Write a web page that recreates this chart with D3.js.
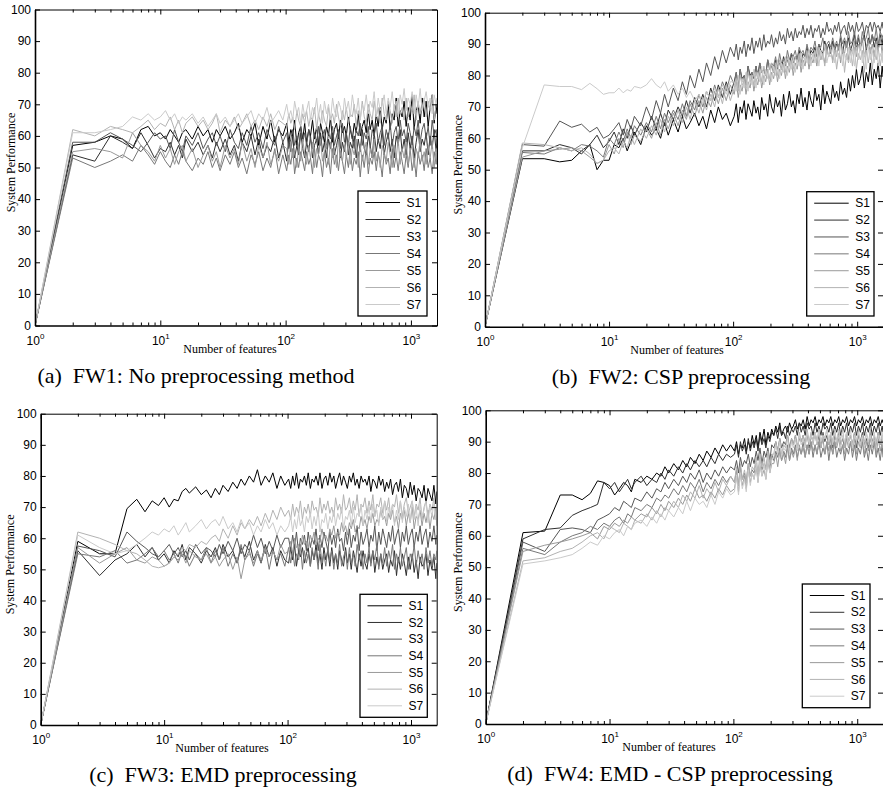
<!DOCTYPE html>
<html>
<head>
<meta charset="utf-8">
<script src="https://cdn.jsdelivr.net/npm/d3@7"></script>
<style>
body { margin: 0; background: #fff; }
svg { display: block; }
.tick text { font-family: "Liberation Sans", Arial, sans-serif; font-size: 12px; fill: #000; }
.serif { font-family: "Liberation Serif", "Times New Roman", serif; fill: #000; }
</style>
</head>
<body>
<div id="vis"></div>
<script>
const FRAME_WIDTH = 883;
const FRAME_HEIGHT = 791;

// number of features where each value was read
const FEATURES = [1,2,3,4,5,6,7,8,9,10, 11,12,13,14,15,16,18,20,22,24,
  26,28,30,33,36,39,42,45,49,53, 57,61,66,71,76,82,88,95,
  102,106,110,114,118,123,127,132,137,142, 147,153,158,164,170,177,183,190,197,204,
  212,220,228,237,245,255,264,274,284,295, 305,317,328,341,353,366,380,394,409,424,
  440,457,473,491,509,529,548,569,590,612, 635,659,683,709,735,763,791,821,851,883,
  916,951,986,1023,1061,1101,1142,1185,1229,1276, 1323,1373,1424,1478,1533,1590,1615];

const X_MAX = 1615;
const SUBJECTS = ["S1", "S2", "S3", "S4", "S5", "S6", "S7"];
const Y_TICKS = [0, 10, 20, 30, 40, 50, 60, 70, 80, 90, 100];
const X_TICKS = [1, 10, 100, 1000];
const CAPTIONS = ["(a)  FW1: No preprocessing method", "(b)  FW2: CSP preprocessing",
                  "(c)  FW3: EMD preprocessing", "(d)  FW4: EMD - CSP preprocessing"];

// FW1: no preprocessing
const FW1 = [
 [0,57,58,60,59,56,62,63,60,61, 59,62,60,58,61,62,59,63,60,62, 58,62,60,63,59,61,64,58,62,60, 64,57,63,59,65,58,62,60,
  64,58,62,60,65,57,61,63,59,64, 58,62,60,65,59,63,57,64,61,58, 63,60,66,58,62,64,59,65,61,63,
  60,66,62,59,64,61,67,60,63,65, 61,68,62,65,60,67,63,69,62,66, 64,70,62,67,65,72,63,68,66,71,
  63,69,65,73,62,68,70,64,72,66, 71,63,69,73,64,70,67],
 [0,54,52,60,58,56,61,57,53,56, 55,58,54,57,53,59,55,58,54,57, 53,58,55,59,54,57,52,58,55,60, 54,59,53,57,55,60,53,58,
  52,59,55,60,53,57,54,61,56,53, 58,55,60,53,57,59,54,61,55,58, 53,59,56,61,54,57,60,53,58,55,
  61,54,58,56,60,53,59,55,62,56, 54,60,57,53,61,55,59,56,62,54, 58,61,55,59,53,60,57,62,55,59,
  54,61,56,60,53,58,62,55,59,57, 61,54,60,56,62,55,59],
 [0,58,58,61,59,57,55,58,61,59, 60,56,62,58,55,60,57,61,56,59, 61,57,60,55,62,58,56,61,57,63, 58,61,56,62,59,57,63,58,
  61,56,59,62,57,60,55,63,58,61, 57,62,59,56,61,58,63,57,60,62, 56,61,59,63,57,60,62,56,64,58,
  61,57,63,59,56,62,60,64,57,61, 59,63,56,62,60,64,58,61,63,57, 62,59,64,57,61,63,58,65,60,62,
  58,64,61,57,63,60,65,58,62,64, 59,63,57,65,60,62,58],
 [0,53,50,52,54,52,57,54,51,55, 52,50,54,51,55,52,49,53,51,55, 50,53,49,54,51,55,50,53,48,54, 51,55,49,53,50,56,48,54,
  49,54,51,56,48,53,50,55,52,49, 55,51,53,48,56,50,54,52,47,55, 50,53,48,56,51,54,49,55,52,48,
  54,50,56,49,53,51,55,47,54,50, 56,48,53,51,55,49,54,52,47,55, 51,53,48,56,50,54,49,55,52,48,
  54,50,56,49,53,47,55,51,54,49, 56,50,53,48,55,51,54],
 [0,55,56,55,53,61,57,55,52,57, 53,56,51,55,57,52,56,50,54,57, 52,55,50,57,53,56,51,58,52,56, 50,57,53,58,51,55,52,57,
  56,51,58,53,55,50,57,52,59,54, 51,57,53,58,50,56,54,59,52,55, 57,51,58,53,56,50,59,54,52,57,
  53,58,51,56,54,59,50,57,52,55, 58,51,56,53,59,52,55,50,57,54, 52,58,54,50,57,53,59,51,56,53,
  58,51,55,57,50,56,53,59,52,55, 51,57,53,58,50,56,52],
 [0,62,60,63,62,61,63,65,62,64, 63,66,62,65,61,64,66,63,65,62, 64,67,61,65,63,66,62,64,67,63, 65,62,66,63,67,62,65,64,
  63,67,64,66,62,68,65,63,67,64, 68,63,66,65,69,62,67,64,68,65, 63,69,65,67,64,70,66,63,68,65,
  69,64,67,66,70,63,68,65,71,66, 64,70,67,65,71,66,69,64,72,67, 65,71,68,64,70,66,72,67,69,65,
  72,66,70,68,73,65,71,67,69,72, 66,71,68,73,65,70,72],
 [0,61,61,62,63,66,65,67,65,66, 68,65,67,64,66,65,67,64,66,63, 65,67,64,66,63,65,67,64,66,68, 64,67,65,69,64,66,68,65,
  70,66,68,65,71,67,69,64,70,66, 68,71,65,69,67,72,66,70,64,71, 67,70,65,72,68,66,71,69,65,72,
  68,71,66,73,69,67,72,65,70,68, 73,67,71,69,74,66,72,68,70,73, 67,72,69,74,68,71,66,73,70,75,
  68,72,70,74,67,73,69,75,68,71, 74,69,72,67,73,70,71]
];

// FW2: CSP preprocessing
const FW2 = [
 [0,53.5,53.5,52.5,53,56,58,50,53,53, 58,57,60,56,59,62,58,64,61,63, 60,65,61,66,62,67,63,65,68,64, 67,63,69,65,70,66,68,64,
  67,71,65,70,68,72,66,71,69,67, 72,68,70,66,73,69,71,67,74,70, 68,73,70,72,67,74,69,71,75,70,
  72,68,74,71,76,70,73,69,75,72, 70,76,72,74,69,77,71,75,73,71, 77,73,75,72,78,74,76,73,79,75,
  80,76,82,77,79,83,76,81,78,84, 77,82,79,84,76,83,80],
 [0,56,56,58,57,55,58,61,57,59, 62,58,63,60,64,61,65,62,67,63, 68,64,69,66,70,67,72,68,73,70, 74,70,76,72,77,73,78,74,
  78,81,77,82,79,80,78,83,80,81, 79,83,80,84,81,82,80,85,82,83, 81,85,83,84,82,86,84,85,83,87,
  84,86,85,88,84,87,86,89,85,88, 87,89,86,90,88,87,91,88,90,87, 91,88,90,89,92,87,91,89,92,88,
  90,93,88,92,89,91,93,88,92,90, 93,89,92,88,93,90,92],
 [0,58,57.5,65.5,63.5,64.5,62,63.5,60,61, 63,65,61,66,63,67,64,70,66,72, 68,74,70,76,72,78,74,80,76,82, 78,84,80,86,82,88,84,89,
  86,90,85,89,87,91,86,90,88,92, 87,91,89,92,88,93,89,91,90,93, 89,92,90,94,91,93,90,95,92,94,
  91,95,92,94,93,96,92,95,93,96, 92,95,94,96,92,95,93,97,94,95, 93,96,94,97,93,95,96,93,97,94,
  96,93,97,94,95,97,93,96,95,97, 94,97,95,96,94,97,95],
 [0,55.5,55,57,56,58,57.5,56,54,60, 58,62,59,63,60,64,61,65,62,67, 63,68,65,69,66,71,67,72,69,74, 70,75,72,77,73,78,75,80,
  77,81,76,82,78,80,77,83,79,81, 80,83,79,84,81,82,80,85,82,84, 83,86,82,87,84,85,83,88,85,87,
  86,88,85,89,87,88,86,90,87,89, 88,91,87,90,89,92,88,90,91,89, 92,89,91,88,93,90,92,89,94,90,
  91,94,90,93,89,94,91,92,95,90, 93,91,95,90,94,92,93],
 [0,54,56,56.5,57,56,54,52,53,58, 55,60,57,62,58,61,59,63,60,65, 61,66,63,68,64,69,66,71,67,72, 68,73,70,75,71,76,72,77,
  74,78,73,77,75,79,74,78,76,80, 75,79,77,81,76,80,78,82,77,81, 79,83,78,82,80,84,79,83,81,85,
  80,84,82,86,81,85,83,87,82,86, 84,87,83,88,85,87,84,89,86,88, 85,89,86,90,84,88,87,91,85,89,
  87,91,86,90,88,92,86,89,91,87, 90,86,91,88,92,87,90],
 [0,58.5,58,57,56,57,55,52,53,56, 57,55,59,57,61,58,63,60,64,61, 66,62,67,64,69,65,70,66,72,68, 73,69,74,70,76,71,77,72,
  76,79,75,80,77,78,76,81,78,80, 77,81,79,82,78,83,80,82,79,84, 81,84,80,85,82,84,81,86,83,85,
  82,86,84,87,83,86,85,88,84,87, 86,88,84,89,85,87,83,88,86,89, 84,88,82,87,85,89,81,87,84,88,
  83,89,82,87,85,88,81,88,84,89, 82,88,85,89,83,87,84],
 [0,57,77,76.5,76.5,75.5,77.5,75.8,74,74.5, 74.5,76,74.5,75.5,75,76.5,76,77,79,77, 76,78,75,77,74,76,73,75,72,74, 71,75,72,76,73,77,74,78,
  78,75,80,74,79,76,81,75,80,77, 82,76,81,78,83,77,82,79,84,78, 83,80,85,79,84,81,86,80,85,82,
  86,81,85,83,87,82,86,84,88,83, 87,84,89,83,88,85,90,84,87,86, 89,84,88,86,90,83,87,85,89,84,
  88,83,89,85,90,84,87,82,89,85, 88,84,90,83,87,85,88]
];

// FW3: EMD preprocessing
const FW3 = [
 [0,59,55,55,69.5,72.5,68.5,72,70.5,73, 70,72.5,72,75,76,74.5,76.5,74,75.5,73, 76,74,77,75,78,76,79,77,80,78, 82,77,80,78,81,76,80,77,
  79,76,80,77,81,76,79,78,80,77, 81,76,79,78,80,77,81,76,79,80, 77,81,78,80,76,79,81,77,80,78,
  76,80,78,81,77,79,76,80,78,79, 77,80,75,79,78,76,80,77,79,75, 78,76,79,74,77,78,75,79,73,77,
  76,73,78,74,77,72,76,75,73,77, 71,76,74,72,77,71,75],
 [0,56,48,53,55,58,54,57,53,55, 52,56,54,58,53,57,55,52,56,54, 57,53,58,54,56,52,57,54,59,53, 56,52,58,54,57,51,56,53,
  52,57,53,58,51,56,54,57,52,55, 57,51,56,53,58,52,55,50,57,53, 56,51,57,52,55,50,56,53,51,57,
  52,55,50,56,53,49,55,51,56,52, 50,55,52,56,49,54,51,55,50,53, 55,49,53,51,56,48,54,50,55,52,
  48,54,50,55,49,53,47,54,51,52, 55,48,53,50,54,47,52],
 [0,57.5,56,54,62,59,57,55,54,56, 58,55,57,54,56,53,58,55,57,56, 54,58,55,59,56,60,55,58,56,61, 57,60,55,59,56,61,57,60,
  60,56,61,57,62,55,60,58,61,56, 62,57,60,58,63,56,61,57,62,59, 56,62,58,61,57,63,59,60,56,62,
  58,63,57,61,59,64,56,62,58,60, 63,57,61,59,64,56,62,58,63,60, 57,62,59,64,58,61,63,57,62,59,
  64,58,61,63,57,62,59,64,58,61, 63,57,62,59,64,58,61],
 [0,55,54,56,52,53,55,57,54,56, 53,55,52,56,54,51,55,53,57,52, 56,53,57,51,55,52,58,53,56,51, 55,52,57,50,56,53,55,51,
  57,52,56,51,55,53,58,50,56,52, 55,51,57,53,56,50,58,52,55,51, 57,53,56,50,55,52,58,51,54,56,
  50,57,52,55,51,58,53,56,50,55, 52,57,51,56,53,58,50,55,52,57, 51,56,53,58,50,55,52,57,51,54,
  57,50,55,53,58,51,56,52,55,50, 57,52,56,51,55,53,56],
 [0,57,52,55,57,53,52,54,53,51, 52,54,53,55,52,56,54,53,55,52, 54,51,53,55,50,54,47,53,55,52, 56,53,57,54,56,53,58,55,
  56,59,55,60,57,58,56,61,58,59, 57,61,59,62,58,60,59,63,60,61, 59,63,61,64,60,62,61,65,62,64,
  61,65,63,66,62,64,63,67,64,66, 63,67,65,68,64,66,65,69,66,67, 64,68,66,69,65,67,63,68,66,69,
  64,68,65,70,63,67,66,69,64,68, 65,69,63,68,66,70,64],
 [0,62,60,58,56,55,53,51,50.5,51, 52,54,55,57,56,58,57,59,58,60, 61,59,63,60,64,61,65,63,66,64, 67,64,68,65,69,66,70,67,
  69,66,71,67,70,68,72,66,70,68, 71,67,72,69,70,67,73,68,71,69, 72,68,70,67,73,69,71,68,74,69,
  70,73,68,72,69,74,67,71,70,73, 68,72,69,74,67,71,70,73,68,72, 69,73,67,71,70,74,68,72,67,71,
  73,68,70,72,67,71,69,73,66,70, 72,67,71,69,73,66,71],
 [0,61,57,55,56,58,60,62,61,63, 62,64,61,63,65,62,64,66,63,65, 66,64,67,63,65,62,66,63,65,61, 64,62,66,63,65,61,64,62,
  64,67,62,66,63,68,64,66,62,67, 65,68,63,67,64,69,62,66,65,68, 63,67,65,69,64,68,66,70,63,67,
  66,69,64,70,65,68,67,71,64,69, 66,70,65,71,67,69,64,70,66,72, 65,70,67,71,64,69,66,72,65,70,
  67,71,65,72,66,70,64,71,67,69, 72,65,70,67,71,66,70]
];

// FW4: EMD - CSP preprocessing
const FW4 = [
 [0,61,61.5,73,73,71.5,73.5,77.5,77,76, 73,75,77,76,74,78,77,79,78,80, 79,82,80,83,81,84,82,85,83,86, 84,87,85,88,86,89,87,89,
  87,90,86,89,88,91,87,90,88,92, 89,92,88,93,90,94,89,93,91,94, 92,95,93,96,92,94,95,93,96,94,
  95,97,94,96,95,97,94,98,95,97, 96,98,95,97,96,98,95,97,96,98, 95,97,96,98,95,97,96,98,95,97,
  96,98,95,97,96,98,95,97,96,98, 95,97,96,98,95,97,96],
 [0,59,62,62.5,66.5,68,69,70,77,75, 77,74,76,78,75,77,79,76,78,77, 80,78,81,79,82,80,83,81,84,82, 84,82,85,83,86,84,86,85,
  86,89,85,90,87,89,86,91,87,90, 88,91,87,92,89,91,88,92,90,93, 92,94,91,95,92,93,91,95,92,94,
  93,95,92,96,93,95,92,96,94,95, 92,96,93,95,92,96,94,95,93,96, 92,95,93,96,92,95,93,96,92,95,
  93,96,92,95,93,96,92,95,93,96, 92,95,93,96,92,95,93],
 [0,58,55,62,62.5,62,61,65,66,67, 69,68,71,70,69,72,71,74,72,75, 74,77,75,78,76,79,77,80,78,81, 77,80,78,81,79,82,80,82,
  81,84,80,85,82,84,83,86,82,85, 83,87,84,88,83,87,85,88,84,89, 88,90,87,91,88,90,89,92,88,91,
  89,92,88,91,90,92,89,93,88,92, 90,93,89,92,88,93,90,92,89,93, 88,92,90,93,89,91,88,93,90,92,
  89,93,88,92,90,93,89,91,88,93, 90,92,88,93,89,92,90],
 [0,56,54,58,60,61,63,62,64,63, 65,66,64,67,66,69,68,70,69,72, 71,73,72,75,73,76,74,77,75,78, 74,77,75,78,76,79,77,79,
  77,81,76,82,78,80,77,83,79,81, 80,83,79,84,81,83,82,85,81,86, 84,87,85,88,84,87,85,89,84,88,
  86,89,85,88,86,90,85,89,86,90, 85,89,86,90,85,88,86,90,84,89, 86,90,85,88,86,89,84,88,86,90,
  85,89,84,88,86,90,85,88,84,89, 86,90,85,88,84,89,85],
 [0,55,57,58,59,60,61,59,63,62, 64,63,65,64,66,65,67,66,69,67, 70,68,71,69,72,70,73,71,75,72, 73,71,74,72,75,73,76,74,
  75,79,74,80,76,79,75,81,77,80, 78,82,77,83,79,81,78,84,80,83, 83,86,82,87,84,86,83,88,84,87,
  85,88,84,89,86,88,85,89,86,90, 87,89,86,90,88,91,86,90,87,91, 86,90,88,91,87,89,86,91,88,90,
  87,91,86,90,88,91,86,90,87,91, 88,90,86,91,87,90,88],
 [0,52,53,55,56,58,60,61,59,63, 62,61,64,63,62,65,64,67,65,68, 66,69,68,71,69,73,71,74,72,76, 72,75,73,77,74,78,76,79,
  77,82,76,83,78,81,77,83,79,82, 81,85,80,86,82,85,81,87,83,86, 86,90,87,91,86,89,88,92,87,91,
  89,92,88,93,90,92,89,94,90,93, 89,93,90,94,88,92,91,94,89,93, 90,94,89,92,91,94,88,93,90,92,
  89,93,90,94,88,92,90,93,89,94, 88,92,90,93,89,92,88],
 [0,51,52,53,54,56,58,57,60,59, 61,62,60,63,62,64,65,63,66,64, 67,65,68,66,69,67,71,68,72,70, 71,69,73,70,74,72,75,73,
  74,79,73,80,75,78,74,81,76,80, 78,83,77,84,79,83,78,85,80,84, 85,89,86,90,85,88,87,91,86,90,
  88,91,87,92,89,91,88,93,89,92, 90,93,89,94,90,92,91,94,90,93, 89,93,90,94,88,92,90,93,89,94,
  88,92,90,93,89,92,88,93,90,92, 89,93,88,92,90,93,89]
];

const COLORS = ["#000000", "#2e2e2e", "#555555", "#777777", "#999999", "#b2b2b2", "#cacaca"];

const PANELS = [
  {data: FW1, caption: CAPTIONS[0], left: 35, right: 437, top: 9.5, bottom: 325.5,
   legend: {x: 358, y: 191, w: 69, h: 125}, capX: 196, xlabX: 230, ylabX: 15},
  {data: FW2, caption: CAPTIONS[1], left: 485, right: 883, top: 12.7, bottom: 326.7,
   legend: {x: 806.7, y: 191.7, w: 67.3, h: 124.3}, capX: 681, xlabX: 677, ylabX: 462},
  {data: FW3, caption: CAPTIONS[2], left: 40.7, right: 436.7, top: 413.7, bottom: 725,
   legend: {x: 360, y: 594.3, w: 67.3, h: 123}, capX: 223, xlabX: 222, ylabX: 14},
  {data: FW4, caption: CAPTIONS[3], left: 485.7, right: 883, top: 410.3, bottom: 724,
   legend: {x: 802.3, y: 584, w: 67.7, h: 123.7}, capX: 670, xlabX: 669, ylabX: 462}
];

// minor log ticks
const MINOR_TICKS = [];
[1, 10, 100, 1000].forEach((dec) => {
  for (let m = 2; m <= 9; m++) {
    if (m * dec < X_MAX) MINOR_TICKS.push(m * dec);
  }
});

const FRAME = d3.select("#vis")
                .append("svg")
                  .attr("width", FRAME_WIDTH)
                  .attr("height", FRAME_HEIGHT);

function drawPanel(p, k) {
  const X_SCALE = d3.scaleLog()
                    .domain([1, X_MAX])
                    .range([p.left, p.right]);
  const Y_SCALE = d3.scaleLinear()
                    .domain([0, 100])
                    .range([p.bottom, p.top]);

  const G = FRAME.append("g");

  G.append("clipPath").attr("id", "clip" + k)
    .append("rect")
      .attr("x", p.left).attr("y", p.top)
      .attr("width", p.right - p.left).attr("height", p.bottom - p.top);

  // series
  const LINE = d3.line()
                 .x((d, i) => X_SCALE(FEATURES[i]))
                 .y((d) => Y_SCALE(d));

  G.append("g")
    .attr("clip-path", "url(#clip" + k + ")")
    .selectAll("path")
    .data(p.data)
    .enter()
    .append("path")
      .attr("d", LINE)
      .attr("fill", "none")
      .attr("stroke", (d, i) => COLORS[i])
      .attr("stroke-width", 1)
      .attr("stroke-linejoin", "round");

  // bottom axis with major labels
  const xAx = G.append("g")
    .attr("transform", "translate(0," + p.bottom + ")")
    .call(d3.axisBottom(X_SCALE).tickValues(X_TICKS).tickSize(-5).tickSizeOuter(0).tickFormat(""));
  xAx.selectAll(".tick text")
    .attr("y", 19).attr("dy", 0)
    .each(function(d) {
      const t = d3.select(this);
      t.text("10");
      t.append("tspan").attr("dy", -6).attr("font-size", "8px").text(Math.round(Math.log10(d)));
    });
  xAx.select(".domain").attr("stroke-width", 1.6);

  G.append("g")
    .attr("transform", "translate(0," + p.bottom + ")")
    .call(d3.axisBottom(X_SCALE).tickValues(MINOR_TICKS).tickSize(-3).tickSizeOuter(0).tickFormat(""))
    .call(g => g.select(".domain").remove());

  // top axis
  G.append("g")
    .attr("transform", "translate(0," + p.top + ")")
    .call(d3.axisTop(X_SCALE).tickValues(X_TICKS).tickSize(-5).tickSizeOuter(0).tickFormat(""));
  G.append("g")
    .attr("transform", "translate(0," + p.top + ")")
    .call(d3.axisTop(X_SCALE).tickValues(MINOR_TICKS).tickSize(-3).tickSizeOuter(0).tickFormat(""))
    .call(g => g.select(".domain").remove());

  // left axis
  const yAx = G.append("g")
    .attr("transform", "translate(" + p.left + ",0)")
    .call(d3.axisLeft(Y_SCALE).tickValues(Y_TICKS).tickSize(-5).tickSizeOuter(0).tickPadding(4));
  yAx.select(".domain").attr("stroke-width", 1.6);

  // right axis
  G.append("g")
    .attr("transform", "translate(" + p.right + ",0)")
    .call(d3.axisRight(Y_SCALE).tickValues(Y_TICKS).tickSize(-5).tickSizeOuter(0).tickFormat(""));

  // axis titles
  G.append("text")
    .attr("class", "serif")
    .attr("x", p.xlabX)
    .attr("y", p.bottom + 27)
    .attr("text-anchor", "middle")
    .attr("font-size", "12px")
    .text("Number of features");

  G.append("text")
    .attr("class", "serif")
    .attr("transform", "translate(" + p.ylabX + "," + ((p.top + p.bottom) / 2 - 5) + ") rotate(-90)")
    .attr("text-anchor", "middle")
    .attr("font-size", "12px")
    .text("System Performance");

  // legend
  const L = G.append("g");
  L.append("rect")
    .attr("x", p.legend.x).attr("y", p.legend.y)
    .attr("width", p.legend.w).attr("height", p.legend.h)
    .attr("fill", "#fff").attr("stroke", "#000").attr("stroke-width", 1.3);
  const rowH = (p.legend.h - 23) / 6;
  SUBJECTS.forEach((s, i) => {
    const yy = p.legend.y + 11.5 + i * rowH;
    L.append("line")
      .attr("x1", p.legend.x + 7.5).attr("x2", p.legend.x + 42)
      .attr("y1", yy).attr("y2", yy)
      .attr("stroke", COLORS[i]).attr("stroke-width", 1);
    L.append("text")
      .attr("x", p.legend.x + 48.5).attr("y", yy)
      .attr("dy", "0.35em")
      .attr("font-family", "Liberation Sans, Arial, sans-serif")
      .attr("font-size", "12px")
      .text(s);
  });

  // caption
  G.append("text")
    .attr("class", "serif")
    .attr("x", p.capX)
    .attr("y", p.bottom + 57)
    .attr("text-anchor", "middle")
    .attr("font-size", "22px")
    .style("white-space", "pre")
    .text(p.caption);
}

PANELS.forEach(drawPanel);
</script>
</body>
</html>
